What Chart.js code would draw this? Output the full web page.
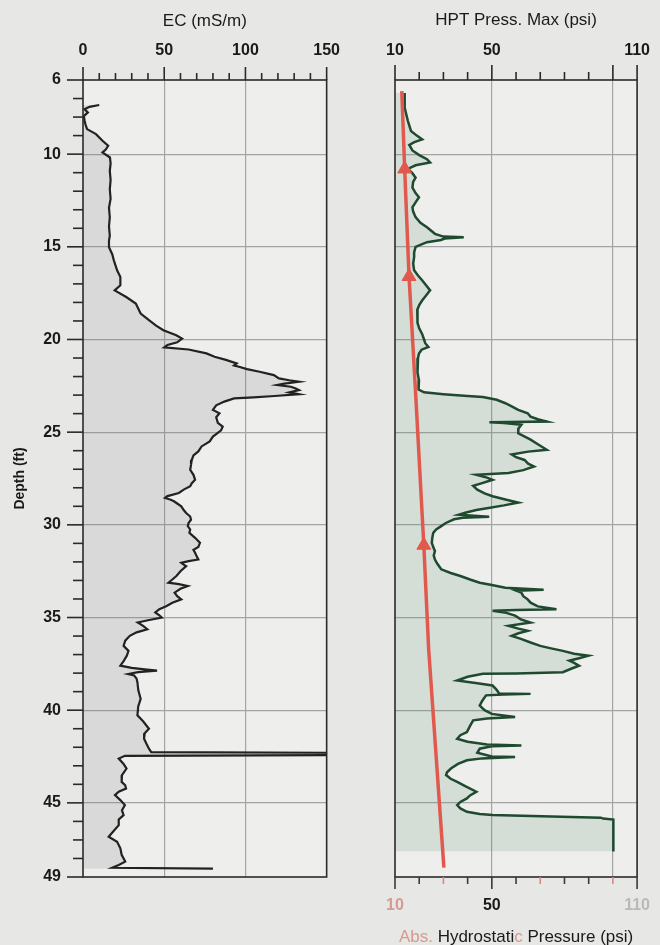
<!DOCTYPE html>
<html>
<head>
<meta charset="utf-8">
<script src="https://cdn.jsdelivr.net/npm/chart.js@4.4.1/dist/chart.umd.min.js"></script>
<style>
  html, body { margin: 0; padding: 0; background: #e7e7e5; overflow: hidden; }
  #wrap { position: relative; width: 660px; height: 945px; }
  .panel { position: absolute; top: 0; }
  #ecBox { left: 0; width: 360px; height: 945px; }
  #hptBox { left: 360px; width: 310px; height: 945px; }
</style>
</head>
<body>
<div id="wrap">
  <div class="panel" id="ecBox"><canvas id="ecChart" width="360" height="945"></canvas></div>
  <div class="panel" id="hptBox"><canvas id="hptChart" width="310" height="945"></canvas></div>
</div>
<script>
// ---- Electrical conductivity log (depth in ft, EC in mS/m) ----
const ecDepth = [7.35, 7.45, 7.58, 7.75, 7.95, 8.2, 8.39, 8.65, 8.92, 9.28, 9.55, 9.75, 9.91, 10.18, 10.5, 10.9, 11.4, 11.9, 12.4, 12.9, 13.4, 13.9, 14.4, 14.66, 15.02, 15.4, 15.73, 16.0, 16.27, 16.63, 17.08, 17.35, 17.71, 18.06, 18.6, 18.96, 19.25, 19.5, 19.77, 19.95, 20.15, 20.3, 20.43, 20.54, 20.75, 20.93, 21.1, 21.29, 21.4, 21.47, 21.6, 21.74, 21.92, 22.1, 22.2, 22.28, 22.38, 22.46, 22.55, 22.64, 22.73, 22.85, 22.95, 23.05, 23.12, 23.18, 23.35, 23.55, 23.8, 23.98, 24.2, 24.5, 24.7, 24.9, 25.1, 25.24, 25.5, 25.77, 26.04, 26.25, 26.49, 26.75, 27.03, 27.3, 27.57, 27.75, 27.92, 28.1, 28.28, 28.45, 28.55, 28.65, 28.73, 28.85, 29.0, 29.2, 29.36, 29.55, 29.72, 29.9, 30.07, 30.25, 30.43, 30.7, 30.97, 31.2, 31.35, 31.51, 31.7, 31.87, 31.96, 32.05, 32.15, 32.23, 32.5, 32.76, 32.95, 33.12, 33.2, 33.3, 33.45, 33.66, 33.85, 34.02, 34.2, 34.38, 34.55, 34.73, 34.88, 35.0, 35.15, 35.27, 35.45, 35.63, 35.8, 35.99, 36.25, 36.53, 36.8, 37.06, 37.35, 37.6, 37.72, 37.8, 37.87, 37.95, 38.05, 38.13, 38.3, 38.49, 38.9, 39.39, 39.8, 40.28, 40.6, 41.0, 41.25, 41.54, 41.8, 42.08, 42.26, 42.3, 42.42, 42.46, 42.61, 42.9, 43.15, 43.5, 43.87, 44.05, 44.23, 44.4, 44.58, 44.85, 45.12, 45.4, 45.66, 45.9, 46.2, 46.5, 46.83, 47.1, 47.45, 47.8, 48.17, 48.35, 48.5, 48.55];
const ecValue = [10, 4, 1, 3, 0.5, 1, 1.5, 2.5, 8, 12, 15.5, 14, 12, 16.6, 17, 16.5, 17, 16.5, 17, 16, 16.5, 16, 16.5, 16, 16, 18, 19, 20, 21, 23, 23, 19.5, 26.6, 32.5, 35.5, 40.6, 45, 49.5, 57.4, 61, 58, 52, 50, 65, 76, 81, 88, 94.6, 93, 96, 101, 108.7, 117.5, 120.6, 127, 133, 124, 119.5, 128, 131, 133, 127, 133, 118, 105, 93, 87, 82, 80, 84, 82, 83, 86, 85, 82, 80, 78, 73, 71, 68, 67, 66.5, 66, 68, 69, 67, 66, 62, 59, 52, 50.5, 54, 56, 58, 60.5, 62, 63.5, 66, 66.5, 65, 64.5, 66, 65.5, 69, 72, 71, 68, 69, 70, 71, 65, 60.5, 62, 63.5, 60, 57.5, 55, 52.6, 59, 64.5, 60, 56.4, 58, 60.5, 55, 51.5, 47, 44.5, 47, 48.5, 40, 33.7, 37, 39.6, 33, 28.8, 26, 25, 28, 27, 25, 23, 30, 38, 45.6, 34, 27.8, 31.5, 33, 33.5, 34, 35.5, 34, 33.5, 37, 40.6, 38, 37.6, 39, 40.6, 42, 160, 160, 25.8, 22, 25, 26.8, 24, 23.8, 26, 26.5, 22, 19.7, 23, 25.8, 24, 25, 22, 22, 19, 15.8, 21, 23, 23.8, 26, 22, 18, 80];

// ---- HPT maximum injection pressure log (psi) ----
const hptDepth = [6.7, 7.5, 8.2, 8.75, 9.0, 9.2, 9.35, 9.5, 9.8, 10.05, 10.27, 10.45, 10.6, 10.8, 11.0, 11.26, 11.5, 11.8, 12.1, 12.33, 12.6, 12.87, 13.1, 13.4, 13.7, 13.95, 14.3, 14.45, 14.48, 14.55, 14.63, 14.75, 15.0, 15.3, 15.56, 15.9, 16.27, 16.55, 16.8, 17.1, 17.35, 17.6, 17.9, 18.15, 18.4, 18.8, 19.1, 19.4, 19.7, 20.0, 20.2, 20.4, 20.55, 20.76, 21.0, 21.3, 21.8, 22.2, 22.5, 22.7, 22.85, 22.95, 23.05, 23.1, 23.25, 23.44, 23.6, 23.8, 23.98, 24.16, 24.3, 24.43, 24.46, 24.5, 24.6, 24.8, 25.06, 25.2, 25.4, 25.65, 25.95, 26.05, 26.2, 26.35, 26.5, 26.7, 26.85, 27.05, 27.2, 27.3, 27.45, 27.57, 27.75, 27.9, 28.1, 28.3, 28.46, 28.65, 28.8, 28.95, 29.1, 29.2, 29.35, 29.45, 29.57, 29.62, 29.7, 29.9, 30.07, 30.25, 30.43, 30.7, 30.97, 31.2, 31.42, 31.65, 31.87, 32.1, 32.4, 32.6, 32.76, 32.95, 33.12, 33.25, 33.39, 33.5, 33.55, 33.66, 33.85, 34.02, 34.2, 34.4, 34.55, 34.6, 34.64, 34.75, 34.9, 35.1, 35.27, 35.45, 35.6, 35.72, 35.85, 35.99, 36.15, 36.35, 36.53, 36.65, 36.8, 36.95, 37.06, 37.2, 37.33, 37.45, 37.6, 37.75, 37.95, 38.02, 38.04, 38.2, 38.4, 38.55, 38.67, 38.9, 39.1, 39.12, 39.16, 39.2, 39.5, 39.75, 40.0, 40.2, 40.37, 40.45, 40.55, 40.85, 41.18, 41.35, 41.54, 41.7, 41.85, 41.9, 41.95, 42.08, 42.3, 42.5, 42.52, 42.6, 42.7, 42.9, 43.15, 43.35, 43.5, 43.7, 43.87, 44.1, 44.4, 44.6, 44.76, 44.95, 45.12, 45.3, 45.48, 45.6, 45.66, 45.8, 45.85, 45.9, 47.63];
const hptValue = [14, 14, 15.3, 16.6, 19, 21.2, 18, 15.9, 17.2, 20, 23.2, 24.5, 18.5, 15.3, 17, 18.5, 17.5, 17.2, 18.5, 19.9, 18.5, 17.2, 17.5, 18.5, 20.5, 23.2, 26.5, 30, 38.4, 30.5, 29, 23.2, 18.5, 17.9, 17.9, 17.5, 17.9, 19.5, 21.2, 23, 24.5, 23, 21.2, 20, 19.2, 19.4, 19.2, 20, 21.2, 22, 22.5, 23.8, 21, 19.9, 19.5, 19.2, 19.4, 19.9, 19.6, 19.9, 22, 30, 40, 46.3, 52, 55.6, 58, 60.9, 64.8, 66, 69, 72.7, 49, 55, 62.2, 61, 60.9, 63, 66, 69, 72.7, 65, 58.2, 60, 63.5, 65, 67.4, 63, 56.9, 43.6, 48, 50.3, 46, 42.3, 44, 47, 50.3, 56, 60.9, 55, 48, 43.6, 39, 36.4, 48.9, 38, 34.4, 31, 29.1, 27, 25.8, 25.4, 25.2, 25.8, 26.5, 26, 26.5, 27.5, 29.1, 33, 37, 41, 45, 50, 55.6, 71.4, 60, 62.2, 63, 64.8, 66, 69, 76.7, 60, 50.3, 56, 59.6, 62, 66, 56.9, 61, 64.8, 61, 58.2, 62, 66, 70, 74, 79.3, 84, 89.9, 86, 82, 84, 86, 83, 79.3, 60, 46.3, 40, 35.7, 44, 50.3, 52, 53, 66, 55, 47.6, 46, 45, 47, 50, 59.6, 48, 42.3, 41, 39.7, 37, 35.7, 40, 48, 62.2, 50, 45, 44, 50, 59.6, 46, 39.7, 36, 33.1, 31.5, 31.1, 33, 35.7, 39, 43.6, 41, 39.7, 37, 35.7, 37, 39.7, 45, 50.3, 95, 96, 100.2, 100.2];

// ---- Absolute hydrostatic pressure (psi) ----
const hydroDepth = [6.6, 10.8, 16.6, 23.1, 31.1, 36.7, 48.5];
const hydroValue = [12.8, 14.0, 15.8, 18.6, 21.9, 23.9, 30.2];
const hydroMarkerDepths = [10.8, 16.6, 31.1];

// ---- axis labels ----
const depthTicks = [6, 10, 15, 20, 25, 30, 35, 40, 45, 49];
const ecTickLabels = [0, 50, 100, 150];
const hptTickLabels = [10, 50, 110];

const FONT = '"Liberation Sans", Arial, sans-serif';
const INK = '#1a1a1a';
const GRID = '#a4a4a4';
const PINK = '#d69a90';
const RED = '#e0594c';
const TICK_FONT = { family: FONT, size: 16, weight: 'bold' };

// page/plot backgrounds, full border, tick marks and optional composite caption
const frame = {
  id: 'frame',
  beforeDraw(chart, args, opts) {
    const { ctx, chartArea: a } = chart;
    ctx.save();
    ctx.fillStyle = '#e7e7e5';
    ctx.fillRect(0, 0, chart.width, chart.height);
    ctx.fillStyle = '#eeeeed';
    ctx.fillRect(a.left, a.top, a.right - a.left, a.bottom - a.top);
    ctx.restore();
  },
  afterDraw(chart, args, opts) {
    const { ctx, chartArea: a } = chart;
    ctx.save();
    ctx.strokeStyle = '#2a2a2a';
    ctx.lineWidth = 1.6;
    ctx.strokeRect(a.left, a.top, a.right - a.left, a.bottom - a.top);
    (opts.marks || []).forEach(m => {
      const s = chart.scales[m.scale];
      for (let v = m.from; v <= m.to + 1e-9; v += m.step) {
        const major = m.major.includes(v);
        const len = major ? m.majorLen : m.minorLen;
        const p = s.getPixelForValue(v);
        ctx.strokeStyle = m.colorOf ? m.colorOf(v) : '#2a2a2a';
        ctx.lineWidth = 1.6;
        ctx.beginPath();
        if (m.side === 'left') { ctx.moveTo(a.left - len, p); ctx.lineTo(a.left, p); }
        else if (m.side === 'top') { ctx.moveTo(p, a.top - len); ctx.lineTo(p, a.top); }
        else { ctx.moveTo(p, a.bottom); ctx.lineTo(p, a.bottom + len); }
        ctx.stroke();
      }
    });
    if (opts.caption) {
      const c = opts.caption;
      ctx.font = c.font;
      ctx.textBaseline = 'middle';
      ctx.textAlign = 'left';
      const total = c.parts.reduce((w, p) => w + ctx.measureText(p[0]).width, 0);
      let x = (a.left + a.right) / 2 - total / 2;
      c.parts.forEach(p => {
        ctx.fillStyle = p[1];
        ctx.fillText(p[0], x, c.y);
        x += ctx.measureText(p[0]).width;
      });
    }
    ctx.restore();
  }
};

const pts = (ds, vs) => ds.map((d, i) => ({ x: vs[i], y: d }));

const depthScale = (showLabels, width) => ({
  type: 'linear',
  reverse: true,
  min: 6,
  max: 49,
  afterBuildTicks: s => { s.ticks = depthTicks.map(v => ({ value: v })); },
  afterFit: s => { s.width = width; },
  border: { display: false },
  grid: {
    drawTicks: false,
    lineWidth: 1.2,
    color: c => (c.tick && c.tick.value > 6 && c.tick.value < 49) ? GRID : 'rgba(0,0,0,0)'
  },
  ticks: {
    display: showLabels,
    padding: 22,
    color: INK,
    font: TICK_FONT,
    callback: v => String(v)
  },
  title: showLabels ? {
    display: true,
    text: 'Depth (ft)',
    color: INK,
    font: { family: FONT, size: 14, weight: 'bold' },
    padding: { top: 12, bottom: 0 }
  } : { display: false }
});

// EC panel
new Chart(document.getElementById('ecChart'), {
  type: 'line',
  data: {
    datasets: [{
      data: pts(ecDepth, ecValue),
      borderColor: '#222222',
      borderWidth: 2.2,
      backgroundColor: 'rgba(110,110,110,0.16)',
      fill: { value: 0 },
      pointRadius: 0,
      tension: 0
    }]
  },
  options: {
    responsive: false,
    animation: false,
    indexAxis: 'y',
    layout: { padding: { left: 0, top: 0, right: 24, bottom: 68 } },
    plugins: {
      legend: { display: false },
      tooltip: { enabled: false },
      frame: {
        marks: [
          { scale: 'y', side: 'left', from: 6, to: 49, step: 1, major: depthTicks, majorLen: 16, minorLen: 10 },
          { scale: 'x', side: 'top', from: 0, to: 150, step: 10, major: ecTickLabels, majorLen: 13, minorLen: 7 }
        ]
      }
    },
    scales: {
      x: {
        type: 'linear',
        position: 'top',
        min: 0,
        max: 150,
        afterFit: s => { s.height = 80; },
        border: { display: false },
        grid: {
          drawTicks: false,
          lineWidth: 1.2,
          color: c => (c.tick && (c.tick.value === 50 || c.tick.value === 100)) ? GRID : 'rgba(0,0,0,0)'
        },
        ticks: {
          stepSize: 10,
          padding: 20,
          maxRotation: 0,
          autoSkip: false,
          color: INK,
          font: TICK_FONT,
          callback: v => ecTickLabels.includes(v) ? String(v) : ''
        },
        title: {
          display: true,
          text: 'EC (mS/m)',
          color: INK,
          font: { family: FONT, size: 17 },
          padding: { top: 11, bottom: 0 }
        }
      },
      y: depthScale(true, 83)
    }
  },
  plugins: [frame]
});

// HPT panel
new Chart(document.getElementById('hptChart'), {
  type: 'line',
  data: {
    datasets: [
      {
        data: pts(hydroDepth, hydroValue),
        xAxisID: 'x2',
        borderColor: RED,
        borderWidth: 3.5,
        backgroundColor: RED,
        pointStyle: 'triangle',
        pointRadius: c => hydroMarkerDepths.includes(hydroDepth[c.dataIndex]) ? 8 : 0,
        pointBorderWidth: 1,
        fill: false,
        tension: 0
      },
      {
        data: pts(hptDepth, hptValue),
        xAxisID: 'x',
        borderColor: '#1f4a2f',
        borderWidth: 2.5,
        backgroundColor: 'rgba(90,135,105,0.17)',
        fill: { value: 10 },
        pointRadius: 0,
        tension: 0
      }
    ]
  },
  options: {
    responsive: false,
    animation: false,
    indexAxis: 'y',
    layout: { padding: { left: 0, top: 0, right: 22, bottom: 0 } },
    plugins: {
      legend: { display: false },
      tooltip: { enabled: false },
      frame: {
        marks: [
          { scale: 'x', side: 'top', from: 10, to: 110, step: 10, major: [10, 50, 100, 110], majorLen: 15, minorLen: 8 },
          { scale: 'x2', side: 'bottom', from: 10, to: 110, step: 10, major: [10, 50, 110], majorLen: 12, minorLen: 7,
            colorOf: v => ([30, 70, 100].includes(v) ? '#d98a80' : '#3a3a3a') }
        ],
        caption: {
          y: 937,
          font: '17px ' + FONT,
          parts: [['Abs. ', PINK], ['Hydrostati', INK], ['c', PINK], [' Pressure (psi)', INK]]
        }
      }
    },
    scales: {
      x: {
        type: 'linear',
        position: 'top',
        min: 10,
        max: 110,
        afterFit: s => { s.height = 80; },
        border: { display: false },
        grid: {
          drawTicks: false,
          lineWidth: 1.2,
          color: c => (c.tick && (c.tick.value === 50 || c.tick.value === 100)) ? GRID : 'rgba(0,0,0,0)'
        },
        ticks: {
          stepSize: 10,
          padding: 20,
          maxRotation: 0,
          autoSkip: false,
          color: INK,
          font: TICK_FONT,
          callback: v => hptTickLabels.includes(v) ? String(v) : ''
        },
        title: {
          display: true,
          text: 'HPT Press. Max (psi)',
          color: INK,
          font: { family: FONT, size: 17 },
          padding: { top: 10, bottom: 0 }
        }
      },
      x2: {
        type: 'linear',
        position: 'bottom',
        min: 10,
        max: 110,
        afterFit: s => { s.height = 68; },
        border: { display: false },
        grid: { display: false, drawTicks: false },
        ticks: {
          stepSize: 10,
          padding: 19,
          maxRotation: 0,
          autoSkip: false,
          color: c => c.tick.value === 10 ? PINK : (c.tick.value === 110 ? '#b9b9b9' : INK),
          font: TICK_FONT,
          callback: v => hptTickLabels.includes(v) ? String(v) : ''
        },
        title: { display: false }
      },
      y: depthScale(false, 35)
    }
  },
  plugins: [frame]
});
</script>
</body>
</html>
